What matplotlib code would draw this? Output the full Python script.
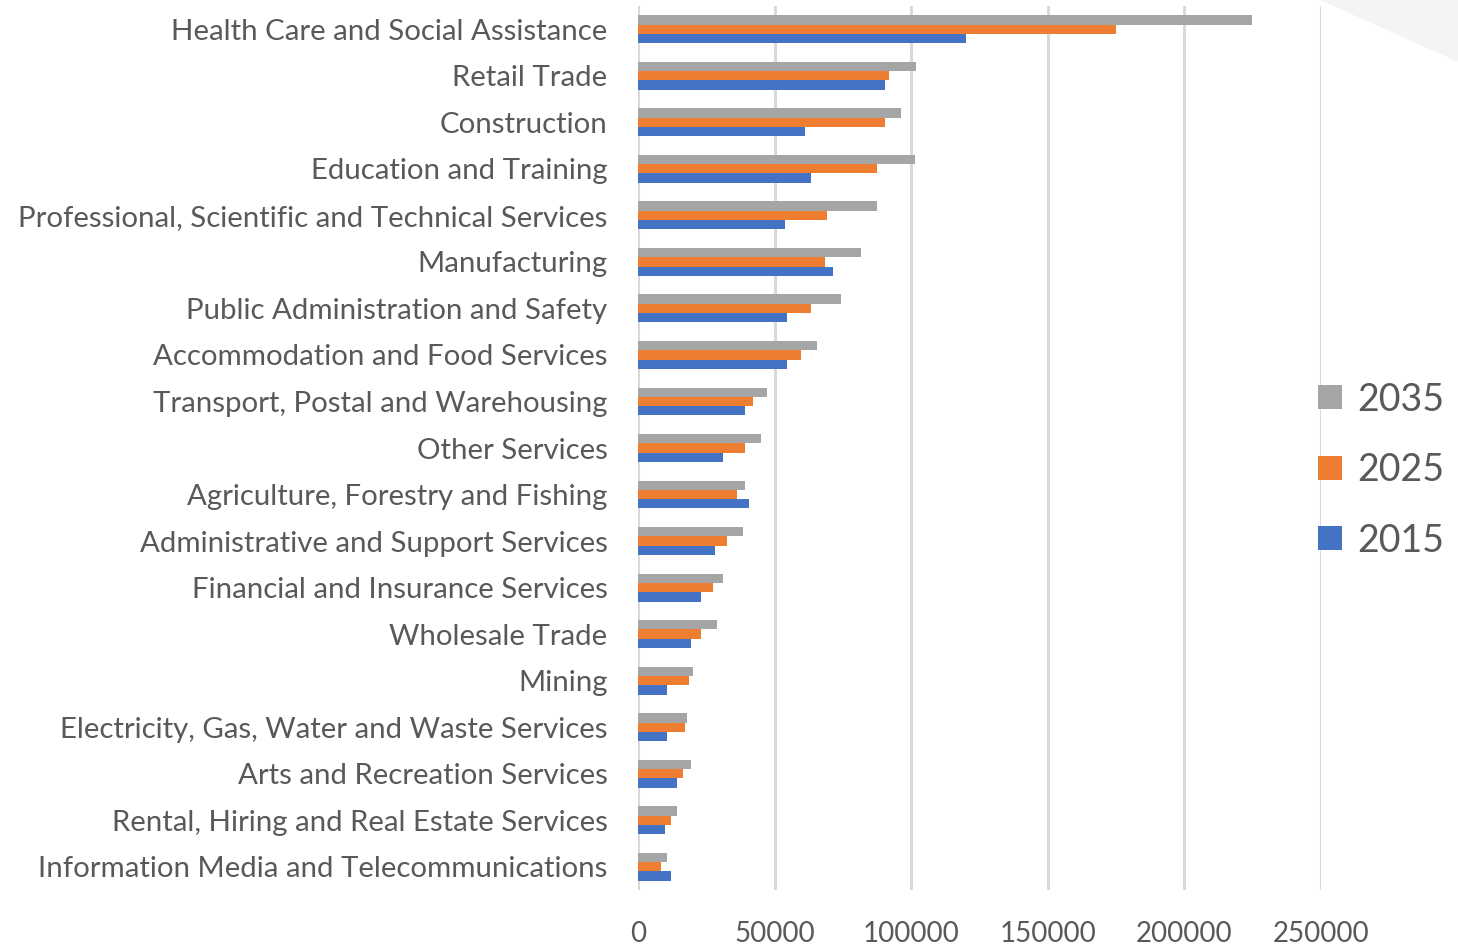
import matplotlib
matplotlib.use("Agg")
import matplotlib.pyplot as plt
from matplotlib.patches import Polygon

# employment by industry
industries = [
    "Health Care and Social Assistance",
    "Retail Trade",
    "Construction",
    "Education and Training",
    "Professional, Scientific and Technical Services",
    "Manufacturing",
    "Public Administration and Safety",
    "Accommodation and Food Services",
    "Transport, Postal and Warehousing",
    "Other Services",
    "Agriculture, Forestry and Fishing",
    "Administrative and Support Services",
    "Financial and Insurance Services",
    "Wholesale Trade",
    "Mining",
    "Electricity, Gas, Water and Waste Services",
    "Arts and Recreation Services",
    "Rental, Hiring and Real Estate Services",
    "Information Media and Telecommunications",
]

jobs2035 = [224700, 101900, 96100, 101300, 87400, 81600, 74300, 65500, 47200, 45000,
            39100, 38400, 31100, 28900, 20100, 17900, 19400, 14300, 10600]
jobs2025 = [175000, 91700, 90300, 87300, 69100, 68400, 63300, 59600, 42100, 39100,
            36200, 32600, 27400, 23000, 18700, 17200, 16500, 12100, 8400]
jobs2015 = [120200, 90300, 61100, 63300, 53800, 71300, 54500, 54500, 39100, 31100,
            40600, 28200, 23000, 19400, 10600, 10600, 14300, 9900, 12100]

x_ticks = [0, 50000, 100000, 150000, 200000, 250000]

GREY = "#a5a5a5"
ORANGE = "#ed7d31"
BLUE = "#4472c4"
TXT = "#595959"

plt.rcParams["font.family"] = ["Lato", "DejaVu Sans"]

fig = plt.figure(figsize=(14.58, 9.46), dpi=100)
ax = fig.add_axes([638 / 1458, 1 - 890 / 946, 683 / 1458, 884 / 946])

pos = list(range(len(industries)))
h = 0.2
ax.barh([p - h for p in pos], jobs2035, height=h, color=GREY, label="2035", zorder=3)
ax.barh(pos, jobs2025, height=h, color=ORANGE, label="2025", zorder=3)
ax.barh([p + h for p in pos], jobs2015, height=h, color=BLUE, label="2015", zorder=3)

ax.set_ylim(len(industries) - 0.5, -0.5)
ax.set_xlim(0, 250000)
ax.set_yticks(pos)
ax.set_yticklabels(industries, fontsize=21.2, color=TXT)
ax.set_xticks(x_ticks)
ax.set_xticklabels([str(t) for t in x_ticks], fontsize=20, color=TXT)
ax.tick_params(axis="both", length=0)
ax.tick_params(axis="y", pad=22)
ax.tick_params(axis="x", pad=22)

for s in ax.spines.values():
    s.set_visible(False)
ax.set_axisbelow(True)
ax.grid(axis="x", color="#d9d9d9", linewidth=2.2)
# draw the 0 line like the other gridlines
ax.axvline(0, color="#d9d9d9", linewidth=2.2, zorder=1)

leg = fig.legend(loc="center left", bbox_to_anchor=(1318 / 1458, 1 - 470 / 946),
                 frameon=False, fontsize=27, handlelength=0.65, handleheight=0.62,
                 handletextpad=0.4, labelspacing=0.92, borderpad=0, borderaxespad=0)
for t in leg.get_texts():
    t.set_color(TXT)

# faint corner shape in the top right of the original
fig.patches.append(Polygon([[1320 / 1458, 1.0], [1.0, 1.0], [1.0, 1 - 62 / 946]],
                           closed=True, transform=fig.transFigure,
                           facecolor="#f3f5f5", edgecolor="none", zorder=0))

fig.savefig("out.png", dpi=100)
